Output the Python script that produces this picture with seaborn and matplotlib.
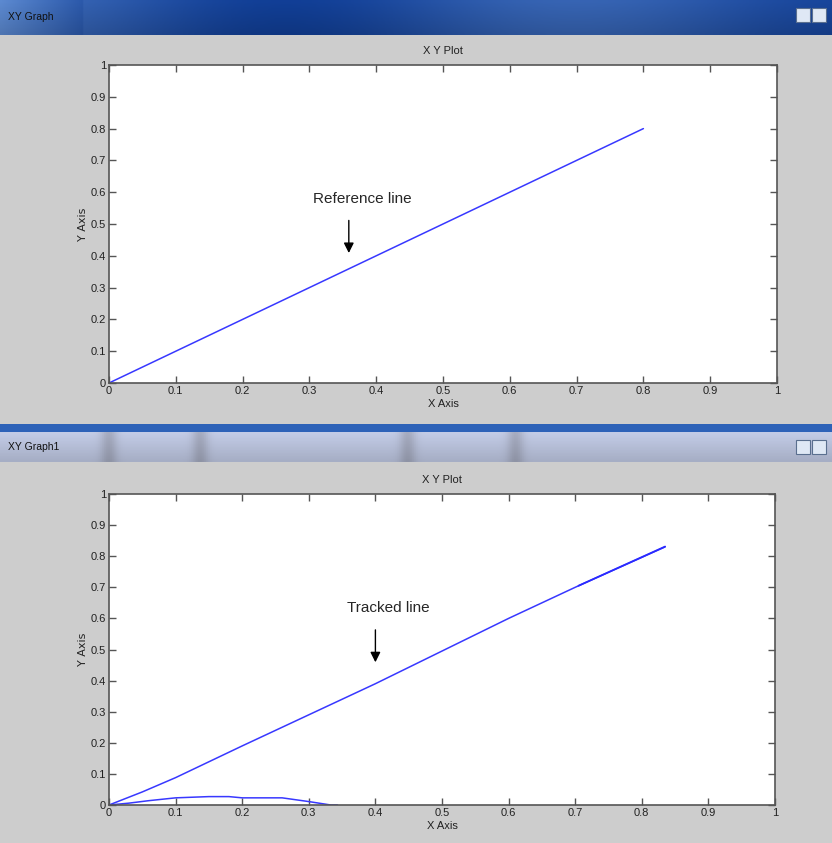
import numpy as np
import pandas as pd
import matplotlib
matplotlib.use("Agg")
import matplotlib.pyplot as plt
from matplotlib.patches import Rectangle
import seaborn as sns

# ---- data ----
ref_x = [0.0, 0.8]
ref_y = [0.0, 0.8]

track_x = [0.0, 0.05, 0.1, 0.2, 0.3, 0.4, 0.5, 0.6, 0.7, 0.835]
track_y = [0.0, 0.042, 0.088, 0.19, 0.29, 0.39, 0.495, 0.6, 0.7, 0.83]

track2_x = [0.705, 0.835]
track2_y = [0.705, 0.831]

err_x = [0.0, 0.03, 0.06, 0.1, 0.15, 0.18, 0.2, 0.26, 0.3, 0.333, 0.343]
err_y = [0.0, 0.006, 0.014, 0.023, 0.027, 0.027, 0.023, 0.023, 0.011, 0.0, 0.0]

ticks = [0, 0.1, 0.2, 0.3, 0.4, 0.5, 0.6, 0.7, 0.8, 0.9, 1]
tick_labels = ["0", "0.1", "0.2", "0.3", "0.4", "0.5", "0.6", "0.7", "0.8", "0.9", "1"]

sns.set_style("ticks")
plt.rcParams['font.family'] = ['Liberation Sans Narrow', 'Liberation Sans', 'DejaVu Sans']

W, H = 832, 843
fig = plt.figure(figsize=(W / 100, H / 100), dpi=100)
fig.patch.set_facecolor("#cdcdcd")

def fx(px):
    return px / W

def fy(py):
    return 1 - py / H

# ---- window chrome ----
def title_bar(y0, y1, dark):
    ax = fig.add_axes([0, fy(y1), 1, fy(y0) - fy(y1)])
    ax.set_axis_off()
    n = 400
    xs = np.linspace(0, 1, n)
    if dark:
        base = 0.55 + 0.2 * np.cos(xs * 9) * np.exp(-xs * 0.5)
        base[:40] = np.linspace(1.0, 0.6, 40)
        r = 0.05 + 0.45 * (base - 0.35)
        g = 0.22 + 0.45 * (base - 0.35)
        b = 0.55 + 0.35 * (base - 0.35)
    else:
        base = np.full(n, 0.8)
        for c in [0.13, 0.24, 0.49, 0.62]:
            base -= 0.15 * np.exp(-((xs - c) / 0.01) ** 2)
        r = 0.72 * base + 0.15
        g = 0.80 * base + 0.12
        b = 0.95 * base + 0.1
    img = np.stack([r, g, b], axis=-1).clip(0, 1)[None, :, :]
    img = np.repeat(img, 10, axis=0)
    shade = np.linspace(1.05, 0.9, 10)[:, None, None]
    ax.imshow((img * shade).clip(0, 1), aspect="auto", extent=[0, 1, 0, 1])
    ax.set_xlim(0, 1)
    ax.set_ylim(0, 1)
    return ax

tb1 = title_bar(0, 35, True)
tb1.text(fx(8), 0.5, "XY Graph", fontsize=7.5, color="#111111", va="center",
         transform=tb1.transAxes)

fig.add_artist(Rectangle((0, fy(432)), 1, fy(424) - fy(432), transform=fig.transFigure,
                         facecolor="#2d62b8", edgecolor="none"))
tb2 = title_bar(432, 462, False)
tb2.text(fx(8), 0.5, "XY Graph1", fontsize=7.5, color="#111111", va="center",
         transform=tb2.transAxes)

for (bx, by) in [(796, 8), (812, 8), (796, 440), (812, 440)]:
    fig.add_artist(Rectangle((fx(bx), fy(by + 14)), fx(14), fy(by) - fy(by + 14),
                             transform=fig.transFigure, facecolor="#dfe8f5",
                             edgecolor="#5a6f8f", linewidth=0.8))

# ---- plots ----
def style_axes(ax, width_px):
    ax.set_xlim(0, 1)
    ax.set_ylim(0, 1)
    ax.set_facecolor("white")
    ax.set_xticks(ticks)
    ax.set_xticklabels(tick_labels)
    ax.set_yticks(ticks)
    ax.set_yticklabels(tick_labels)
    ax.tick_params(direction="in", length=5, width=1, colors="#555555",
                   labelcolor="#222222", labelsize=8, top=True, right=True, pad=2)
    for s in ax.spines.values():
        s.set_visible(True)
        s.set_color("#555555")
        s.set_linewidth(1.2)
    ax.set_title("X Y Plot", fontsize=8, color="#222222", pad=8)
    ax.set_xlabel("X Axis", fontsize=8, color="#222222", labelpad=2)
    ax.set_ylabel("Y Axis", fontsize=8, color="#222222",
                  family=["DejaVu Sans"])
    ax.yaxis.set_label_coords(-21.0 / width_px, 0.5)

w1 = 777 - 109
ax1 = fig.add_axes([fx(109), fy(383), fx(777) - fx(109), fy(65) - fy(383)])
df_ref = pd.DataFrame({"x": ref_x, "y": ref_y})
sns.lineplot(data=df_ref, x="x", y="y", ax=ax1, color="#3838ff", linewidth=1.1,
             estimator=None, sort=False)
style_axes(ax1, w1)
ax1.annotate("", xy=(0.359, 0.40), xytext=(0.359, 0.52),
             arrowprops=dict(arrowstyle="-|>", color="black", lw=1, mutation_scale=15))
ax1.text(0.379, 0.578, "Reference line", fontsize=11, ha="center", va="center",
         family=["Liberation Sans", "DejaVu Sans"])

w2 = 775 - 109
ax2 = fig.add_axes([fx(109), fy(805), fx(775) - fx(109), fy(494) - fy(805)])
df_tr = pd.DataFrame({"x": track_x, "y": track_y})
df_tr2 = pd.DataFrame({"x": track2_x, "y": track2_y})
df_err = pd.DataFrame({"x": err_x, "y": err_y})
sns.lineplot(data=df_tr, x="x", y="y", ax=ax2, color="#3838ff", linewidth=1.1,
             estimator=None, sort=False)
sns.lineplot(data=df_tr2, x="x", y="y", ax=ax2, color="#2a2aff", linewidth=1.3,
             estimator=None, sort=False)
sns.lineplot(data=df_err, x="x", y="y", ax=ax2, color="#3838ff", linewidth=1.1,
             estimator=None, sort=False)
style_axes(ax2, w2)
ax2.annotate("", xy=(0.4, 0.45), xytext=(0.4, 0.572),
             arrowprops=dict(arrowstyle="-|>", color="black", lw=1, mutation_scale=15))
ax2.text(0.419, 0.633, "Tracked line", fontsize=11, ha="center", va="center",
         family=["Liberation Sans", "DejaVu Sans"])

fig.savefig("out.png", dpi=100, facecolor=fig.get_facecolor())
